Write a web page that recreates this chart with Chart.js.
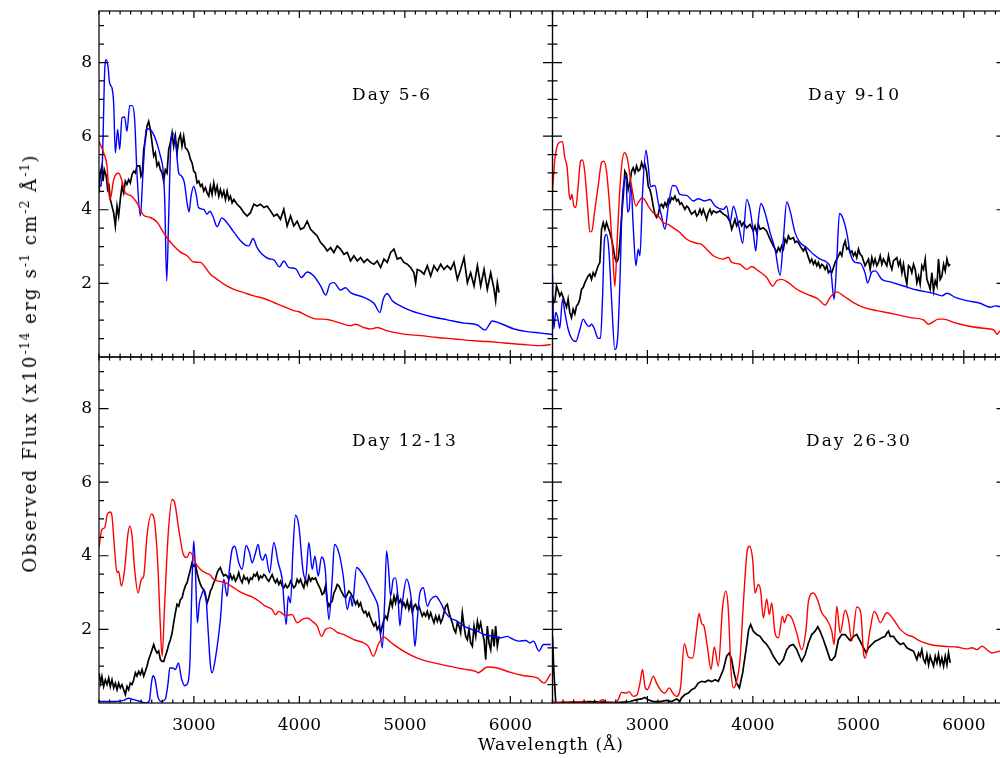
<!DOCTYPE html>
<html>
<head>
<meta charset="utf-8">
<title>Observed spectra</title>
<script src="https://cdn.jsdelivr.net/npm/chart.js@4.4.1/dist/chart.umd.min.js"></script>
<style>
html, body { margin: 0; padding: 0; overflow: hidden; background: #fff; }
#wrap { position: relative; width: 1010px; height: 758px; }
#wrap canvas { position: absolute; left: 0; top: 0; }
.lbl { position: absolute; font-family: 'DejaVu Serif', serif; color: #000; white-space: nowrap; line-height: 1; }
.day { font-size: 17px; letter-spacing: 2px; }
.lbl sup { font-size: 0.68em; position: relative; top: -0.55em; vertical-align: baseline; line-height: 0; letter-spacing: 1px; }
</style>
</head>
<body>
<div id="wrap">
  <canvas id="spectra" width="1010" height="758"></canvas>
  <div class="lbl day" style="left:352px; top:86px;">Day 5-6</div>
  <div class="lbl day" style="left:808px; top:86px;">Day 9-10</div>
  <div class="lbl day" style="left:352px; top:432px;">Day 12-13</div>
  <div class="lbl day" style="left:806px; top:432px;">Day 26-30</div>
  <div class="lbl" style="left:551px; top:736px; font-size:17px; letter-spacing:1px; transform:translateX(-50%);">Wavelength (Å)</div>
  <div class="lbl" style="left:30px; top:363px; font-size:18px; letter-spacing:2.2px; transform:translate(-50%,-50%) rotate(-90deg);">Observed Flux (x10<sup>-14</sup> erg s<sup>-1</sup> cm<sup>-2</sup> Å<sup>-1</sup>)</div>
</div>
<script>
// axis ranges and labelled ticks
const waveRange = [2100, 6400];
const fluxRange = [0, 9.4];
const waveTicks = [3000, 4000, 5000, 6000];
const fluxTicks = [2, 4, 6, 8];

// [wavelength (A), flux]
const day56Red = [[2100,5.86],[2144,5.55],[2176,5.19],[2201,4.28],[2214,4.37],[2239,4.82],[2286,5.00],[2318,4.78],[2350,4.46],[2397,4.39],[2460,4.19],[2524,3.85],[2587,3.79],[2650,3.67],[2698,3.45],[2745,3.24],[2808,3.02],[2872,2.85],[2935,2.75],[2998,2.58],[3061,2.57],[3109,2.43],[3156,2.25],[3220,2.11],[3283,1.98],[3378,1.84],[3473,1.75],[3568,1.66],[3663,1.59],[3758,1.48],[3852,1.37],[3947,1.26],[3995,1.23],[4074,1.12],[4169,1.03],[4230,1.03],[4295,1.00],[4390,0.92],[4485,0.85],[4533,0.89],[4612,0.80],[4675,0.76],[4738,0.80],[4833,0.71],[4991,0.62],[5150,0.58],[5308,0.53],[5466,0.49],[5656,0.44],[5782,0.42],[5941,0.38],[6162,0.33],[6289,0.31],[6384,0.34]];
const day56Blue = [[2100,4.70],[2122,4.64],[2138,5.91],[2153,7.71],[2169,8.08],[2185,7.90],[2201,7.44],[2223,7.31],[2239,6.90],[2255,5.55],[2277,6.18],[2296,5.64],[2318,6.50],[2343,6.52],[2365,6.13],[2391,6.83],[2416,6.83],[2438,6.45],[2460,5.00],[2492,3.83],[2517,5.00],[2549,6.20],[2587,6.18],[2625,6.00],[2657,5.73],[2682,5.46],[2707,5.09],[2723,4.28],[2742,2.07],[2761,3.83],[2783,5.91],[2802,6.09],[2827,5.82],[2856,5.00],[2878,4.93],[2910,4.73],[2935,4.19],[2954,3.94],[2973,4.37],[2998,4.64],[3024,4.37],[3043,4.06],[3093,4.01],[3125,3.88],[3150,3.96],[3182,3.81],[3220,3.54],[3264,3.78],[3308,3.67],[3372,3.42],[3435,3.18],[3489,3.04],[3520,3.02],[3561,3.22],[3599,2.97],[3647,2.79],[3710,2.67],[3758,2.64],[3811,2.45],[3852,2.61],[3900,2.43],[3963,2.40],[4020,2.16],[4074,2.31],[4137,2.20],[4201,1.93],[4251,1.68],[4289,1.98],[4327,2.02],[4390,1.82],[4438,1.88],[4485,1.75],[4612,1.62],[4707,1.46],[4764,1.21],[4795,1.57],[4833,1.72],[4881,1.53],[4944,1.41],[5055,1.26],[5245,1.10],[5403,1.01],[5561,0.92],[5688,0.87],[5760,0.73],[5830,0.98],[5909,0.91],[6036,0.76],[6162,0.69],[6289,0.65],[6399,0.61]];
const day56Black = [[2100,4.46],[2112,5.00],[2128,5.19],[2138,4.78],[2150,5.09],[2169,4.91],[2182,4.55],[2195,4.64],[2207,4.28],[2223,4.10],[2239,3.92],[2255,3.56],[2271,4.10],[2286,3.83],[2302,4.28],[2318,4.64],[2334,4.46],[2350,4.78],[2365,4.69],[2381,4.82],[2397,4.73],[2413,4.96],[2429,5.05],[2445,5.00],[2460,5.19],[2486,5.19],[2498,4.91],[2511,5.00],[2524,5.64],[2540,5.91],[2555,6.27],[2571,6.40],[2587,6.18],[2603,5.82],[2619,5.46],[2634,5.55],[2650,5.19],[2666,5.28],[2682,5.09],[2698,5.00],[2713,4.78],[2729,5.09],[2745,5.00],[2761,5.64],[2777,5.82],[2793,6.09],[2808,5.73],[2824,6.00],[2840,5.55],[2856,5.91],[2872,6.04],[2887,5.73],[2903,6.00],[2919,5.68],[2935,5.64],[2951,5.55],[2967,5.37],[2982,5.28],[2998,5.05],[3014,5.00],[3030,4.73],[3046,4.78],[3062,4.64],[3077,4.69],[3093,4.51],[3109,4.60],[3125,4.46],[3141,4.37],[3156,4.64],[3172,4.42],[3188,4.73],[3204,4.46],[3220,4.64],[3236,4.37],[3251,4.55],[3267,4.37],[3283,4.51],[3299,4.28],[3315,4.51],[3331,4.28],[3346,4.37],[3362,4.19],[3378,4.28],[3410,4.15],[3441,4.06],[3473,3.92],[3505,3.83],[3536,3.92],[3568,4.15],[3599,4.10],[3631,4.15],[3663,4.06],[3694,4.10],[3726,3.97],[3758,3.83],[3789,3.88],[3821,3.74],[3852,4.01],[3884,3.56],[3916,3.83],[3947,3.56],[3979,3.69],[4011,3.47],[4042,3.51],[4074,3.69],[4106,3.47],[4137,3.38],[4169,3.29],[4201,3.11],[4232,3.02],[4264,2.88],[4296,2.97],[4327,2.84],[4359,3.02],[4390,2.93],[4422,2.79],[4454,2.84],[4485,2.61],[4517,2.75],[4549,2.61],[4580,2.70],[4612,2.57],[4643,2.66],[4675,2.57],[4707,2.52],[4738,2.61],[4770,2.43],[4802,2.66],[4833,2.57],[4865,2.84],[4897,2.93],[4928,2.66],[4960,2.70],[4991,2.57],[5023,2.52],[5055,2.43],[5086,2.29],[5102,2.02],[5118,2.38],[5150,2.34],[5181,2.25],[5213,2.48],[5245,2.20],[5276,2.48],[5308,2.34],[5340,2.52],[5371,2.38],[5403,2.48],[5435,2.38],[5466,2.57],[5498,2.11],[5529,2.38],[5561,2.70],[5593,2.02],[5624,2.29],[5656,1.93],[5688,2.48],[5719,1.93],[5751,2.38],[5782,1.84],[5814,2.29],[5846,1.84],[5861,1.53],[5877,2.02],[5893,1.75]];

const day910Red = [[2100,4.51],[2122,5.37],[2144,5.73],[2169,5.84],[2195,5.85],[2217,5.41],[2239,5.14],[2258,4.42],[2271,4.28],[2283,4.42],[2302,4.10],[2321,4.06],[2343,4.64],[2366,5.32],[2384,5.35],[2407,5.00],[2435,4.01],[2454,3.40],[2473,3.42],[2502,4.01],[2533,4.64],[2565,5.28],[2587,5.32],[2612,5.05],[2644,4.01],[2669,2.93],[2691,1.92],[2714,3.20],[2733,4.28],[2755,5.19],[2783,5.55],[2808,5.41],[2850,4.64],[2891,4.10],[2916,4.21],[2948,4.32],[2973,4.28],[3008,4.10],[3055,3.92],[3103,3.83],[3150,3.65],[3198,3.60],[3245,3.51],[3308,3.38],[3372,3.20],[3467,3.09],[3514,3.06],[3561,2.93],[3625,2.75],[3720,2.66],[3767,2.71],[3799,2.57],[3878,2.52],[3941,2.38],[3989,2.46],[4052,2.34],[4131,2.16],[4188,1.93],[4226,2.07],[4273,2.11],[4337,2.02],[4416,1.84],[4511,1.71],[4621,1.57],[4685,1.41],[4732,1.62],[4796,1.77],[4859,1.66],[4954,1.48],[5049,1.35],[5175,1.26],[5333,1.17],[5492,1.07],[5618,1.01],[5666,0.89],[5760,1.03],[5808,1.03],[5903,0.94],[6029,0.85],[6188,0.78],[6283,0.74],[6314,0.62],[6346,0.71],[6400,0.72]];
const day910Blue = [[2100,2.25],[2112,0.76],[2131,1.21],[2150,1.07],[2169,0.78],[2195,1.57],[2217,1.21],[2248,0.76],[2280,0.51],[2321,0.42],[2359,0.74],[2391,1.03],[2422,0.89],[2448,0.83],[2470,0.89],[2495,0.78],[2533,0.51],[2555,0.51],[2574,1.57],[2593,3.20],[2612,3.33],[2634,2.93],[2660,1.57],[2691,0.20],[2717,0.49],[2739,2.02],[2761,4.19],[2777,4.73],[2796,4.90],[2812,3.94],[2827,4.01],[2843,4.73],[2865,3.56],[2891,2.48],[2913,2.93],[2929,2.75],[2954,4.46],[2986,5.62],[3008,5.19],[3030,4.63],[3071,4.66],[3103,4.19],[3134,3.83],[3166,3.47],[3198,4.10],[3239,4.66],[3270,4.64],[3308,4.42],[3372,4.39],[3435,4.24],[3482,4.30],[3546,4.24],[3593,4.28],[3641,4.10],[3720,4.01],[3751,4.10],[3783,3.65],[3815,4.10],[3853,3.74],[3878,3.38],[3903,3.09],[3941,4.28],[3973,4.01],[4004,3.38],[4027,2.88],[4052,3.74],[4077,4.17],[4115,3.92],[4163,3.38],[4210,2.93],[4258,2.22],[4289,3.20],[4321,4.21],[4353,3.97],[4400,3.38],[4448,3.11],[4511,2.97],[4574,2.79],[4637,2.66],[4701,2.57],[4738,2.38],[4770,1.57],[4796,2.66],[4821,3.90],[4852,3.78],[4890,3.38],[4922,2.84],[4969,2.57],[5017,2.55],[5064,2.28],[5087,2.01],[5128,2.31],[5159,2.34],[5223,2.11],[5302,2.04],[5428,1.93],[5555,1.82],[5713,1.73],[5792,1.66],[5840,1.73],[5919,1.62],[6029,1.53],[6156,1.46],[6251,1.35],[6298,1.39],[6346,1.37],[6400,1.37]];
const day910Black = [[2100,1.66],[2112,1.48],[2125,1.57],[2138,1.93],[2154,1.80],[2169,1.66],[2185,1.75],[2201,1.62],[2217,1.48],[2233,1.35],[2248,1.57],[2264,1.21],[2280,1.07],[2296,1.30],[2312,1.17],[2328,1.39],[2343,1.44],[2359,1.57],[2375,1.84],[2391,1.89],[2407,2.02],[2422,2.11],[2438,2.20],[2454,2.25],[2470,2.11],[2486,2.29],[2502,2.20],[2517,2.34],[2533,2.48],[2549,2.57],[2565,3.47],[2581,3.65],[2597,3.47],[2612,3.65],[2628,3.51],[2644,3.38],[2660,3.20],[2676,2.97],[2691,2.70],[2707,2.57],[2723,2.66],[2739,3.11],[2755,3.83],[2771,4.37],[2786,5.05],[2802,4.96],[2818,4.55],[2834,4.73],[2850,5.05],[2865,5.14],[2881,5.00],[2897,5.19],[2913,5.05],[2929,5.09],[2945,5.28],[2960,5.14],[2976,5.23],[2992,5.05],[3008,4.64],[3024,4.55],[3039,4.37],[3055,4.10],[3071,3.88],[3087,3.79],[3103,3.88],[3118,4.10],[3134,4.15],[3150,4.06],[3166,4.19],[3182,4.10],[3198,4.28],[3213,4.19],[3229,4.33],[3245,4.28],[3261,4.37],[3277,4.24],[3293,4.28],[3308,4.15],[3324,4.19],[3340,4.10],[3356,4.01],[3372,4.10],[3388,4.06],[3403,3.97],[3419,3.88],[3435,3.92],[3451,3.97],[3467,3.83],[3482,3.88],[3498,4.01],[3514,3.88],[3530,4.01],[3546,3.88],[3561,3.74],[3577,3.92],[3593,4.01],[3609,3.88],[3625,3.97],[3656,3.92],[3688,3.97],[3720,3.88],[3751,3.83],[3783,3.69],[3799,3.47],[3815,3.60],[3830,3.74],[3846,3.56],[3862,3.65],[3878,3.69],[3894,3.56],[3910,3.65],[3941,3.51],[3973,3.60],[4004,3.42],[4020,3.56],[4036,3.38],[4052,3.60],[4068,3.47],[4099,3.51],[4131,3.42],[4163,3.20],[4178,3.11],[4194,3.02],[4210,2.93],[4226,2.84],[4242,2.97],[4258,2.88],[4273,3.02],[4289,2.93],[4305,3.20],[4321,3.11],[4337,3.29],[4353,3.20],[4384,3.24],[4400,3.11],[4416,3.15],[4432,3.11],[4448,3.02],[4479,2.88],[4495,2.97],[4511,2.84],[4527,2.70],[4542,2.57],[4558,2.66],[4574,2.52],[4590,2.61],[4606,2.48],[4621,2.57],[4637,2.43],[4653,2.52],[4669,2.48],[4685,2.38],[4701,2.48],[4716,2.29],[4732,2.34],[4748,2.29],[4764,2.43],[4780,2.57],[4796,2.66],[4811,2.75],[4827,2.84],[4843,2.75],[4859,3.02],[4875,3.15],[4890,2.93],[4906,2.97],[4922,2.84],[4938,2.88],[4954,2.75],[4969,2.84],[4985,2.70],[5001,2.93],[5017,2.79],[5033,2.75],[5049,2.61],[5064,2.48],[5080,2.57],[5096,2.66],[5112,2.38],[5128,2.70],[5144,2.52],[5159,2.66],[5175,2.48],[5191,2.57],[5207,2.75],[5223,2.52],[5238,2.66],[5270,2.48],[5286,2.75],[5302,2.52],[5318,2.38],[5333,2.61],[5365,2.70],[5381,2.48],[5397,2.61],[5413,2.29],[5428,2.52],[5444,2.20],[5460,1.98],[5476,2.48],[5492,2.43],[5507,2.29],[5523,2.52],[5539,2.38],[5555,2.02],[5571,2.20],[5586,1.98],[5602,2.48],[5618,2.38],[5634,2.66],[5650,2.11],[5666,1.98],[5681,1.84],[5697,2.29],[5713,1.80],[5729,2.07],[5745,1.93],[5760,2.66],[5776,2.11],[5792,2.20],[5808,2.52],[5824,2.34],[5840,2.66],[5855,2.48],[5871,2.52]];

const day1213Red = [[2100,4.22],[2128,4.72],[2154,4.76],[2179,5.13],[2207,5.19],[2223,5.08],[2248,4.17],[2271,3.54],[2286,3.58],[2312,3.18],[2343,3.63],[2372,4.54],[2391,4.81],[2413,4.54],[2438,3.63],[2470,2.99],[2502,3.36],[2524,3.45],[2555,4.54],[2597,5.13],[2628,4.90],[2660,3.63],[2679,2.27],[2698,1.27],[2723,2.72],[2755,4.54],[2793,5.53],[2818,5.44],[2856,4.72],[2903,4.01],[2935,3.95],[2960,4.10],[2989,4.01],[3014,3.81],[3062,3.63],[3109,3.54],[3156,3.47],[3188,3.36],[3236,3.31],[3299,3.27],[3362,3.16],[3425,3.04],[3489,2.95],[3552,2.88],[3615,2.77],[3679,2.63],[3742,2.54],[3774,2.40],[3805,2.49],[3868,2.38],[3932,2.40],[3979,2.18],[4027,2.27],[4074,2.31],[4122,2.22],[4169,2.09],[4210,1.81],[4248,2.00],[4295,2.04],[4359,1.92],[4422,1.86],[4517,1.72],[4612,1.63],[4659,1.52],[4700,1.27],[4754,1.63],[4802,1.79],[4865,1.65],[4991,1.40],[5118,1.22],[5245,1.11],[5403,1.01],[5561,0.92],[5672,0.86],[5694,0.82],[5782,0.98],[5877,0.95],[6004,0.83],[6130,0.74],[6257,0.68],[6320,0.54],[6384,0.80]];
const day1213Blue = [[2100,0.04],[2255,0.04],[2334,0.07],[2381,0.13],[2429,0.09],[2492,0.04],[2546,0.00],[2578,0.07],[2597,0.54],[2612,0.74],[2631,0.65],[2660,0.16],[2691,0.04],[2729,0.11],[2755,0.54],[2771,0.95],[2799,0.95],[2824,0.91],[2853,1.09],[2881,0.68],[2913,0.47],[2944,0.56],[2963,1.18],[2982,3.27],[2998,4.40],[3014,3.63],[3033,2.18],[3052,2.72],[3071,2.92],[3093,3.07],[3115,2.86],[3134,2.00],[3156,1.04],[3172,0.82],[3204,1.22],[3251,2.27],[3283,3.36],[3315,2.90],[3337,3.63],[3362,4.17],[3387,4.26],[3425,3.81],[3457,3.63],[3495,4.28],[3527,4.08],[3552,3.81],[3584,4.08],[3609,4.31],[3631,3.99],[3653,3.88],[3679,4.04],[3717,3.54],[3758,4.36],[3799,3.81],[3837,3.36],[3875,2.13],[3894,2.90],[3916,2.72],[3938,4.08],[3963,5.10],[3995,4.81],[4033,3.63],[4058,3.36],[4090,4.36],[4122,3.63],[4147,3.99],[4179,3.45],[4210,3.97],[4248,3.54],[4257,3.08],[4280,2.27],[4311,3.36],[4333,4.31],[4375,4.08],[4416,3.45],[4454,2.54],[4485,2.90],[4501,2.63],[4542,3.68],[4580,3.58],[4628,3.36],[4675,3.08],[4723,2.81],[4745,2.63],[4786,1.50],[4808,2.72],[4827,4.13],[4846,3.63],[4865,2.90],[4890,3.36],[4912,3.40],[4934,2.90],[4953,2.10],[4976,2.72],[5017,3.36],[5048,3.08],[5071,2.54],[5096,1.54],[5118,2.27],[5143,2.99],[5175,3.13],[5213,2.63],[5245,2.81],[5292,2.90],[5340,2.72],[5387,2.45],[5434,2.31],[5498,2.22],[5561,2.09],[5624,2.01],[5688,1.95],[5751,1.86],[5846,1.81],[5909,1.77],[5972,1.81],[6020,1.74],[6083,1.68],[6146,1.70],[6187,1.63],[6219,1.68],[6273,1.41],[6314,1.59],[6384,1.59]];
const day1213Black = [[2100,0.82],[2116,0.54],[2128,0.72],[2144,0.45],[2160,0.63],[2176,0.50],[2192,0.68],[2207,0.45],[2223,0.63],[2239,0.41],[2255,0.54],[2271,0.36],[2286,0.54],[2302,0.41],[2318,0.50],[2334,0.36],[2350,0.23],[2366,0.45],[2381,0.36],[2397,0.54],[2413,0.50],[2429,0.63],[2445,0.82],[2460,0.73],[2476,0.86],[2492,0.77],[2508,0.91],[2524,0.73],[2540,0.86],[2555,1.00],[2571,1.18],[2587,1.31],[2603,1.45],[2619,1.59],[2634,1.45],[2650,1.36],[2666,1.41],[2682,1.18],[2698,1.13],[2714,1.13],[2729,1.27],[2745,1.41],[2761,1.59],[2777,1.72],[2793,1.90],[2808,2.18],[2824,2.45],[2840,2.68],[2856,2.63],[2872,2.81],[2888,2.86],[2903,3.04],[2919,3.18],[2935,3.27],[2951,3.45],[2967,3.63],[2982,3.81],[2998,3.72],[3014,3.77],[3030,3.54],[3046,3.36],[3062,3.22],[3077,3.13],[3093,3.08],[3109,2.90],[3125,2.72],[3141,2.86],[3156,3.04],[3172,3.13],[3188,3.27],[3204,3.36],[3220,3.54],[3236,3.63],[3251,3.68],[3267,3.54],[3283,3.45],[3299,3.49],[3315,3.45],[3331,3.36],[3346,3.49],[3362,3.36],[3378,3.45],[3394,3.31],[3410,3.40],[3425,3.54],[3441,3.36],[3457,3.27],[3473,3.45],[3489,3.36],[3505,3.40],[3520,3.27],[3536,3.40],[3552,3.36],[3568,3.49],[3584,3.45],[3599,3.54],[3615,3.36],[3631,3.45],[3647,3.40],[3663,3.49],[3679,3.45],[3694,3.36],[3710,3.31],[3726,3.40],[3742,3.49],[3758,3.36],[3773,3.27],[3789,3.36],[3805,3.22],[3821,3.31],[3837,3.18],[3853,3.13],[3868,3.22],[3884,3.13],[3900,3.18],[3916,3.31],[3932,3.22],[3947,3.13],[3963,3.18],[3979,3.36],[3995,3.27],[4011,3.36],[4027,3.22],[4042,3.13],[4058,3.36],[4074,3.22],[4090,3.45],[4106,3.31],[4122,3.40],[4137,3.36],[4153,3.40],[4169,3.27],[4185,3.18],[4201,3.08],[4216,2.95],[4232,2.99],[4248,3.18],[4264,2.77],[4280,2.63],[4295,2.72],[4311,2.77],[4327,2.99],[4343,3.08],[4359,3.22],[4375,3.18],[4390,3.08],[4406,2.99],[4422,2.90],[4438,2.86],[4454,2.95],[4469,3.04],[4485,2.99],[4501,2.90],[4517,2.81],[4533,2.68],[4549,2.77],[4564,2.63],[4580,2.72],[4596,2.54],[4612,2.45],[4628,2.49],[4643,2.36],[4659,2.45],[4675,2.31],[4691,2.18],[4707,2.09],[4723,2.18],[4738,2.00],[4754,2.09],[4770,1.90],[4786,2.09],[4802,2.27],[4817,2.36],[4833,2.27],[4849,2.54],[4865,2.81],[4881,2.63],[4897,2.90],[4912,2.72],[4928,2.95],[4944,2.72],[4960,2.81],[4976,2.63],[4991,2.72],[5007,2.59],[5023,2.77],[5039,2.54],[5055,2.72],[5071,2.45],[5086,2.63],[5102,2.68],[5118,2.54],[5134,2.63],[5150,2.49],[5165,2.36],[5181,2.45],[5197,2.36],[5213,2.49],[5229,2.31],[5245,2.45],[5260,2.31],[5276,2.18],[5292,2.36],[5308,2.22],[5324,2.36],[5340,2.18],[5355,2.27],[5371,2.45],[5387,2.63],[5403,2.68],[5419,2.45],[5434,2.31],[5450,2.18],[5466,2.00],[5482,1.91],[5498,2.18],[5514,2.09],[5529,1.91],[5545,2.45],[5561,2.09],[5577,1.81],[5593,1.72],[5608,2.00],[5624,1.63],[5640,1.54],[5656,2.09],[5672,1.81],[5688,2.22],[5703,2.00],[5719,2.18],[5735,1.91],[5751,1.72],[5767,1.18],[5782,2.09],[5798,1.63],[5814,1.45],[5830,2.00],[5846,1.54],[5861,2.09],[5877,1.54],[5893,1.81]];

const day2630Red = [[2100,0.02],[2264,0.02],[2391,0.04],[2448,0.00],[2517,0.00],[2574,0.09],[2612,0.02],[2691,0.01],[2723,0.09],[2755,0.29],[2802,0.27],[2827,0.31],[2865,0.18],[2903,0.23],[2929,0.54],[2954,0.91],[2976,0.45],[2998,0.36],[3024,0.50],[3055,0.73],[3087,0.54],[3134,0.32],[3166,0.27],[3207,0.41],[3245,0.25],[3277,0.18],[3315,0.45],[3350,1.61],[3388,1.25],[3429,1.22],[3467,1.99],[3489,2.43],[3514,2.16],[3536,2.09],[3568,1.54],[3603,0.91],[3634,1.52],[3672,1.00],[3713,2.61],[3745,3.04],[3767,2.54],[3792,0.91],[3815,0.41],[3846,0.59],[3878,1.18],[3910,2.72],[3948,4.17],[3967,4.26],[3998,3.90],[4020,2.99],[4052,3.22],[4074,3.04],[4099,2.31],[4131,2.83],[4156,2.40],[4178,2.72],[4210,1.90],[4242,1.77],[4280,2.36],[4299,2.18],[4327,2.40],[4368,2.31],[4416,1.90],[4463,1.45],[4504,2.00],[4527,2.77],[4574,2.99],[4612,2.81],[4653,2.45],[4701,2.27],[4748,1.95],[4770,1.59],[4796,2.63],[4827,1.90],[4875,2.52],[4906,2.27],[4938,1.68],[4985,2.61],[5023,2.45],[5049,1.36],[5064,1.22],[5112,2.00],[5150,2.49],[5175,2.40],[5207,2.18],[5270,2.45],[5333,2.27],[5397,2.00],[5460,1.86],[5523,1.79],[5586,1.68],[5681,1.59],[5808,1.54],[5934,1.52],[6029,1.47],[6077,1.50],[6124,1.45],[6172,1.54],[6235,1.41],[6267,1.36],[6346,1.41],[6400,1.43]];
const day2630Black = [[2100,1.81],[2112,0.91],[2131,0.00],[2233,0.02],[2454,0.04],[2707,0.01],[2834,0.04],[2897,0.09],[2945,0.11],[2976,0.15],[3008,0.09],[3055,0.04],[3118,0.04],[3182,0.07],[3229,0.04],[3277,0.11],[3308,0.04],[3324,0.14],[3356,0.23],[3388,0.27],[3419,0.36],[3451,0.41],[3482,0.54],[3514,0.59],[3546,0.57],[3577,0.62],[3609,0.58],[3641,0.63],[3672,0.59],[3694,0.73],[3720,0.91],[3751,1.27],[3777,1.36],[3799,1.18],[3821,0.82],[3846,0.54],[3872,0.41],[3903,0.82],[3935,1.45],[3960,2.00],[3979,2.13],[4004,1.95],[4036,1.86],[4068,1.81],[4099,1.68],[4131,1.59],[4163,1.45],[4194,1.27],[4226,1.13],[4251,1.04],[4289,1.18],[4321,1.45],[4353,1.56],[4384,1.59],[4416,1.45],[4441,1.27],[4463,1.13],[4495,1.31],[4527,1.63],[4558,1.86],[4590,1.95],[4615,2.07],[4637,1.95],[4669,1.72],[4701,1.45],[4732,1.18],[4748,1.16],[4780,1.27],[4811,1.72],[4843,1.86],[4875,1.86],[4900,1.77],[4922,1.70],[4954,1.81],[4985,1.86],[5017,1.68],[5049,1.50],[5074,1.36],[5096,1.50],[5128,1.59],[5159,1.68],[5191,1.72],[5223,1.77],[5254,1.81],[5270,1.90],[5286,1.95],[5302,1.81],[5333,1.81],[5365,1.68],[5397,1.59],[5428,1.63],[5460,1.50],[5492,1.45],[5523,1.41],[5555,1.18],[5571,1.36],[5586,1.27],[5602,1.45],[5618,1.18],[5634,1.09],[5650,1.32],[5666,1.04],[5681,1.27],[5697,1.13],[5713,1.00],[5729,1.27],[5745,1.09],[5760,1.32],[5776,1.04],[5792,1.22],[5808,1.00],[5824,1.27],[5840,1.04],[5855,1.36],[5871,1.09]];

Chart.defaults.font.family = "'DejaVu Serif', serif";
Chart.defaults.color = '#000';

// one dataset per curve, tied to its panel's axes
function curve(points, color, xID, yID, smooth) {
    return {
        data: points.map(p => ({ x: p[0], y: p[1] })),
        borderColor: color,
        borderWidth: smooth ? 1.4 : 1.7,
        pointRadius: 0,
        fill: false,
        cubicInterpolationMode: smooth ? 'monotone' : 'default',
        tension: 0,
        xAxisID: xID,
        yAxisID: yID
    };
}

// no label overhang padding, so the panel boxes land where the figure has them
function noPadding(s) {
    s.paddingLeft = 0; s.paddingRight = 0; s.paddingTop = 0; s.paddingBottom = 0;
}

function waveAxis() {
    return {
        type: 'linear', position: 'bottom', stack: 'wave', stackWeight: 1,
        min: waveRange[0], max: waveRange[1],
        grid: { display: false, drawTicks: false },
        border: { display: false },
        ticks: { padding: 12, maxRotation: 0, autoSkip: false, font: { size: 17 }, callback: v => String(v) },
        afterBuildTicks: s => { s.ticks = waveTicks.map(v => ({ value: v })); },
        afterFit: s => { s.height = 55; noPadding(s); }
    };
}

function fluxAxis() {
    return {
        type: 'linear', position: 'left', stack: 'flux', stackWeight: 1,
        min: fluxRange[0], max: fluxRange[1],
        grid: { display: false, drawTicks: false },
        border: { display: false },
        ticks: { padding: 7, autoSkip: false, font: { size: 17 }, callback: v => String(v) },
        afterBuildTicks: s => { s.ticks = fluxTicks.map(v => ({ value: v })); },
        afterFit: s => { s.width = 99; noPadding(s); }
    };
}

// IDL-style boxes with inward ticks on all four sides of each panel
const panelFrame = {
    id: 'panelFrame',
    afterDatasetsDraw(chart) {
        const { ctx, scales } = chart;
        ctx.save();
        ctx.strokeStyle = '#000';
        ctx.lineWidth = 1.2;
        [['xl', 'yt'], ['xr', 'yt'], ['xl', 'yb'], ['xr', 'yb']].forEach(([xk, yk]) => {
            const xs = scales[xk], ys = scales[yk];
            const l = xs.left, r = xs.right, t = ys.top, b = ys.bottom;
            ctx.strokeRect(l, t, r - l, b - t);
            ctx.beginPath();
            for (let w = Math.ceil(xs.min / 100) * 100; w <= xs.max; w += 100) {
                const px = xs.getPixelForValue(w);
                const len = w % 1000 === 0 ? 7 : 3.5;
                ctx.moveTo(px, b); ctx.lineTo(px, b - len);
                ctx.moveTo(px, t); ctx.lineTo(px, t + len);
            }
            for (let f = 0.5; f < ys.max; f += 0.5) {
                const py = ys.getPixelForValue(f);
                const len = f % 2 === 0 ? 9.5 : 5;
                ctx.moveTo(l, py); ctx.lineTo(l + len, py);
                ctx.moveTo(r, py); ctx.lineTo(r - len, py);
            }
            ctx.stroke();
        });
        ctx.restore();
    }
};

new Chart(document.getElementById('spectra'), {
    type: 'line',
    data: {
        datasets: [
            curve(day56Red, '#ff0000', 'xl', 'yt', true),
            curve(day56Blue, '#0000ff', 'xl', 'yt', true),
            curve(day56Black, '#000000', 'xl', 'yt', false),
            curve(day910Red, '#ff0000', 'xr', 'yt', true),
            curve(day910Blue, '#0000ff', 'xr', 'yt', true),
            curve(day910Black, '#000000', 'xr', 'yt', false),
            curve(day1213Red, '#ff0000', 'xl', 'yb', true),
            curve(day1213Blue, '#0000ff', 'xl', 'yb', true),
            curve(day1213Black, '#000000', 'xl', 'yb', false),
            curve(day2630Red, '#ff0000', 'xr', 'yb', true),
            curve(day2630Black, '#000000', 'xr', 'yb', false)
        ]
    },
    options: {
        responsive: false,
        animation: false,
        events: [],
        layout: { padding: { top: 11, right: 4, left: 0, bottom: 0 } },
        plugins: { legend: { display: false }, tooltip: { enabled: false } },
        scales: {
            xl: waveAxis(),
            xr: waveAxis(),
            yb: fluxAxis(),
            yt: fluxAxis()
        }
    },
    plugins: [panelFrame]
});
</script>
</body>
</html>
